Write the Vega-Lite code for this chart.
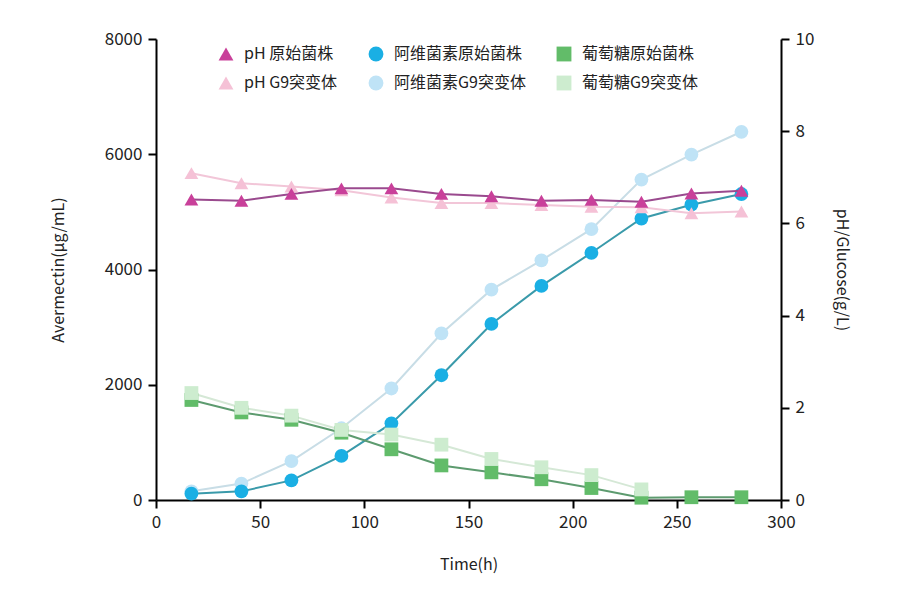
{
  "$schema": "https://vega.github.io/schema/vega-lite/v6.json",
  "width": 625,
  "height": 461,
  "autosize": "none",
  "padding": {"left": 156, "top": 39, "right": 119, "bottom": 90},
  "background": "white",
  "config": {
    "font": "Noto Sans CJK SC",
    "view": {"stroke": null},
    "axis": {
      "grid": false,
      "domainColor": "#000000",
      "domainWidth": 2,
      "tickColor": "#000000",
      "tickWidth": 2,
      "tickSize": 8,
      "labelFontSize": 17,
      "labelColor": "#222222",
      "titleFontSize": 16,
      "titleFontWeight": "normal",
      "titleColor": "#222222",
      "labelFont": "Noto Sans CJK SC",
      "titleFont": "Noto Sans CJK SC",
      "format": "d",
      "labelFlush": false,
      "labelOverlap": false
    },
    "legend": {"labelFont": "Noto Sans CJK SC"}
  },
  "datasets": {
    "aver": [
      {"t": 17, "series": "阿维菌素G9突变体", "value": 150},
      {"t": 41, "series": "阿维菌素G9突变体", "value": 285},
      {"t": 65, "series": "阿维菌素G9突变体", "value": 675},
      {"t": 89, "series": "阿维菌素G9突变体", "value": 1245},
      {"t": 113, "series": "阿维菌素G9突变体", "value": 1935},
      {"t": 137, "series": "阿维菌素G9突变体", "value": 2890},
      {"t": 161, "series": "阿维菌素G9突变体", "value": 3650},
      {"t": 185, "series": "阿维菌素G9突变体", "value": 4160},
      {"t": 209, "series": "阿维菌素G9突变体", "value": 4700},
      {"t": 233, "series": "阿维菌素G9突变体", "value": 5560},
      {"t": 257, "series": "阿维菌素G9突变体", "value": 5995},
      {"t": 281, "series": "阿维菌素G9突变体", "value": 6390},
      {"t": 17, "series": "阿维菌素原始菌株", "value": 110},
      {"t": 41, "series": "阿维菌素原始菌株", "value": 150},
      {"t": 65, "series": "阿维菌素原始菌株", "value": 340},
      {"t": 89, "series": "阿维菌素原始菌株", "value": 765},
      {"t": 113, "series": "阿维菌素原始菌株", "value": 1330},
      {"t": 137, "series": "阿维菌素原始菌株", "value": 2165},
      {"t": 161, "series": "阿维菌素原始菌株", "value": 3055},
      {"t": 185, "series": "阿维菌素原始菌株", "value": 3715},
      {"t": 209, "series": "阿维菌素原始菌株", "value": 4290},
      {"t": 233, "series": "阿维菌素原始菌株", "value": 4885},
      {"t": 257, "series": "阿维菌素原始菌株", "value": 5125},
      {"t": 281, "series": "阿维菌素原始菌株", "value": 5310}
    ],
    "right": [
      {"t": 17, "series": "pH G9突变体", "value": 7.09},
      {"t": 41, "series": "pH G9突变体", "value": 6.87},
      {"t": 65, "series": "pH G9突变体", "value": 6.8},
      {"t": 89, "series": "pH G9突变体", "value": 6.72},
      {"t": 113, "series": "pH G9突变体", "value": 6.56},
      {"t": 137, "series": "pH G9突变体", "value": 6.44},
      {"t": 161, "series": "pH G9突变体", "value": 6.44},
      {"t": 185, "series": "pH G9突变体", "value": 6.4},
      {"t": 209, "series": "pH G9突变体", "value": 6.36},
      {"t": 233, "series": "pH G9突变体", "value": 6.35},
      {"t": 257, "series": "pH G9突变体", "value": 6.22},
      {"t": 281, "series": "pH G9突变体", "value": 6.26},
      {"t": 17, "series": "pH 原始菌株", "value": 6.52},
      {"t": 41, "series": "pH 原始菌株", "value": 6.49},
      {"t": 65, "series": "pH 原始菌株", "value": 6.64},
      {"t": 89, "series": "pH 原始菌株", "value": 6.76},
      {"t": 113, "series": "pH 原始菌株", "value": 6.76},
      {"t": 137, "series": "pH 原始菌株", "value": 6.64},
      {"t": 161, "series": "pH 原始菌株", "value": 6.59},
      {"t": 185, "series": "pH 原始菌株", "value": 6.49},
      {"t": 209, "series": "pH 原始菌株", "value": 6.51},
      {"t": 233, "series": "pH 原始菌株", "value": 6.47},
      {"t": 257, "series": "pH 原始菌株", "value": 6.65},
      {"t": 281, "series": "pH 原始菌株", "value": 6.71},
      {"t": 17, "series": "葡萄糖原始菌株", "value": 2.17},
      {"t": 41, "series": "葡萄糖原始菌株", "value": 1.9},
      {"t": 65, "series": "葡萄糖原始菌株", "value": 1.74},
      {"t": 89, "series": "葡萄糖原始菌株", "value": 1.46},
      {"t": 113, "series": "葡萄糖原始菌株", "value": 1.1},
      {"t": 137, "series": "葡萄糖原始菌株", "value": 0.75},
      {"t": 161, "series": "葡萄糖原始菌株", "value": 0.6},
      {"t": 185, "series": "葡萄糖原始菌株", "value": 0.45},
      {"t": 209, "series": "葡萄糖原始菌株", "value": 0.26},
      {"t": 233, "series": "葡萄糖原始菌株", "value": 0.05},
      {"t": 257, "series": "葡萄糖原始菌株", "value": 0.06},
      {"t": 281, "series": "葡萄糖原始菌株", "value": 0.06},
      {"t": 17, "series": "葡萄糖G9突变体", "value": 2.32},
      {"t": 41, "series": "葡萄糖G9突变体", "value": 2.0},
      {"t": 65, "series": "葡萄糖G9突变体", "value": 1.83},
      {"t": 89, "series": "葡萄糖G9突变体", "value": 1.52},
      {"t": 113, "series": "葡萄糖G9突变体", "value": 1.42},
      {"t": 137, "series": "葡萄糖G9突变体", "value": 1.2},
      {"t": 161, "series": "葡萄糖G9突变体", "value": 0.89},
      {"t": 185, "series": "葡萄糖G9突变体", "value": 0.71},
      {"t": 209, "series": "葡萄糖G9突变体", "value": 0.54},
      {"t": 233, "series": "葡萄糖G9突变体", "value": 0.23}
    ]
  },
  "encoding": {
    "x": {
      "field": "t",
      "type": "quantitative",
      "title": "Time(h)",
      "scale": {"domain": [0, 300], "nice": false},
      "axis": {"values": [0, 50, 100, 150, 200, 250, 300], "titlePadding": 26, "labelPadding": 6}
    }
  },
  "layer": [
    {
      "data": {"name": "aver"},
      "encoding": {
        "y": {
          "field": "value",
          "type": "quantitative",
          "title": "Avermectin(μg/mL)",
          "scale": {"domain": [0, 8000], "nice": false},
          "axis": {"orient": "left", "values": [0, 2000, 4000, 6000, 8000], "titlePadding": 38, "labelPadding": 6}
        }
      },
      "layer": [
        {
          "mark": {"type": "line", "strokeWidth": 2},
          "encoding": {
            "stroke": {
              "field": "series",
              "type": "nominal",
              "title": null,
              "scale": {
                "domain": ["pH 原始菌株", "pH G9突变体", "阿维菌素原始菌株", "阿维菌素G9突变体", "葡萄糖原始菌株", "葡萄糖G9突变体"],
                "range": ["#9a4a8e", "#f2c6d8", "#3a9aaa", "#c8dde6", "#5d9b6f", "#d5e8d6"]
              },
              "legend": {"orient": "none", "legendX": 62, "legendY": 7, "columns": 3, "columnPadding": 30, "rowPadding": 13, "labelFontSize": 16, "labelColor": "#222222", "symbolSize": 220, "labelOffset": 10, "symbolStrokeWidth": 0}
            }
          }
        },
        {
          "mark": {"type": "point", "filled": true, "opacity": 1, "size": 190},
          "encoding": {
            "color": {
              "field": "series",
              "type": "nominal",
              "title": null,
              "scale": {
                "domain": ["pH 原始菌株", "pH G9突变体", "阿维菌素原始菌株", "阿维菌素G9突变体", "葡萄糖原始菌株", "葡萄糖G9突变体"],
                "range": ["#c9409a", "#f5c1d6", "#1aafe4", "#bfe3f6", "#62bc69", "#cdeccf"]
              },
              "legend": {"orient": "none", "legendX": 62, "legendY": 7, "columns": 3, "columnPadding": 30, "rowPadding": 13, "labelFontSize": 16, "labelColor": "#222222", "symbolSize": 220, "labelOffset": 10, "symbolStrokeWidth": 0}
            },
            "shape": {
              "field": "series",
              "type": "nominal",
              "title": null,
              "scale": {
                "domain": ["pH 原始菌株", "pH G9突变体", "阿维菌素原始菌株", "阿维菌素G9突变体", "葡萄糖原始菌株", "葡萄糖G9突变体"],
                "range": ["triangle-up", "triangle-up", "circle", "circle", "square", "square"]
              },
              "legend": {"orient": "none", "legendX": 62, "legendY": 7, "columns": 3, "columnPadding": 30, "rowPadding": 13, "labelFontSize": 16, "labelColor": "#222222", "symbolSize": 220, "labelOffset": 10, "symbolStrokeWidth": 0}
            }
          }
        }
      ]
    },
    {
      "data": {"name": "right"},
      "encoding": {
        "y": {
          "field": "value",
          "type": "quantitative",
          "title": "pH/Glucose(g/L)",
          "scale": {"domain": [0, 10], "nice": false},
          "axis": {"orient": "right", "values": [0, 2, 4, 6, 8, 10], "titlePadding": 20, "labelPadding": 6}
        }
      },
      "layer": [
        {
          "mark": {"type": "line", "strokeWidth": 2},
          "encoding": {
            "stroke": {"field": "series", "type": "nominal", "title": null}
          }
        },
        {
          "mark": {"type": "point", "filled": true, "opacity": 1, "size": 190},
          "encoding": {
            "color": {"field": "series", "type": "nominal", "title": null},
            "shape": {"field": "series", "type": "nominal", "title": null}
          }
        }
      ]
    }
  ],
  "resolve": {"scale": {"y": "independent"}}
}
